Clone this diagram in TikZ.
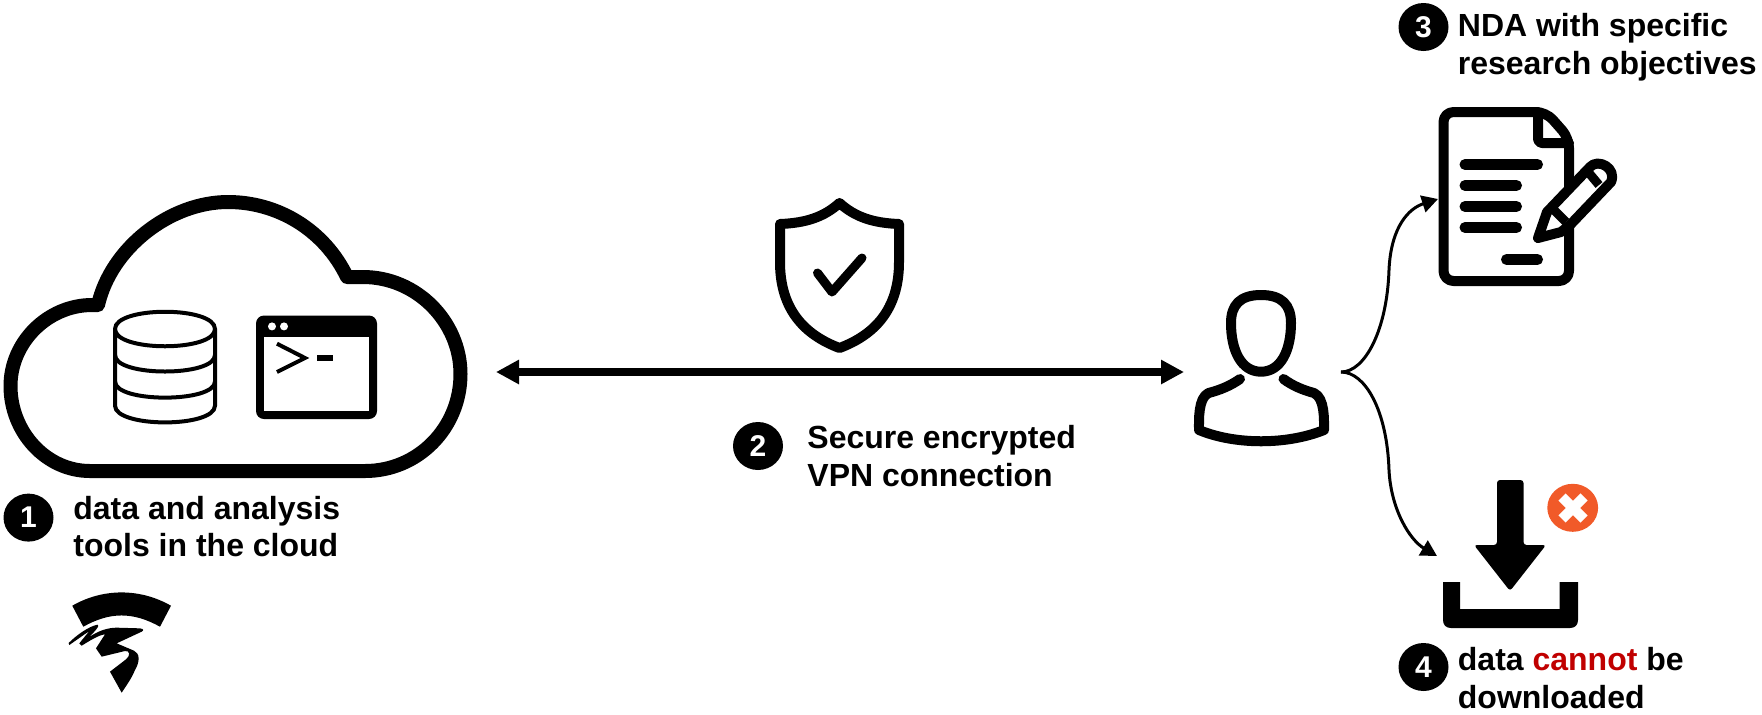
\documentclass[tikz,border=0pt]{standalone}
\usepackage{fontspec}
\setmainfont{Liberation Sans}
\usetikzlibrary{arrows.meta, shapes.geometric}
\definecolor{stopred}{HTML}{F15A29}
\definecolor{textred}{HTML}{C00000}
\tikzset{
  iconline/.style={line width=5pt, line join=round, line cap=round},
  textbar/.style={line width=5.5pt, line cap=round},
  badge/.style={ellipse, fill=black, text=white, inner sep=0pt, minimum width=25pt, minimum height=24pt, font=\fontsize{15}{15}\selectfont\bfseries},
  caption/.style={anchor=base west, inner sep=0pt, align=left, font=\fontsize{16}{18.75}\selectfont\bfseries},
  curvearrow/.style={line width=1.5pt, -{Triangle[length=8pt, width=8.5pt]}}
}
\begin{document}
\begin{tikzpicture}[x=0.5pt, y=-0.5pt]
\useasboundingbox (0,0) rectangle (1762,714);
\draw[line width=7pt, line join=round] (347,277) .. controls (325,231) and (279,202) .. (228,202)
  .. controls (170,202) and (111,248) .. (98,305) -- (92,305)
  .. controls (48,305) and (10.5,342) .. (10.5,386) .. controls (10.5,432) and (46,471) .. (90,471)
  -- (365,471) .. controls (418,471) and (460.5,428) .. (460.5,374)
  .. controls (460.5,322) and (417,277) .. (363,277) -- cycle;
\draw[line width=2pt] (115,329) .. controls (115,352) and (215,352) .. (215,329)
  .. controls (215,306) and (115,306) .. (115,329) -- (115,405.6)
  .. controls (115,428) and (215,428) .. (215,405.6) -- (215,329);
\draw[line width=2pt] (115,355) .. controls (115,377) and (215,377) .. (215,355);
\draw[line width=2pt] (115,381.5) .. controls (115,403) and (215,403) .. (215,381.5);
\fill[rounded corners=4pt] (256,315.5) rectangle (377,419);
\fill[white] (264,337.4) rectangle (369,411);
\fill[white] (272,326.4) circle[radius=4] (284,326.4) circle[radius=4];
\draw[line width=2pt] (277,343.7) -- (305,358) -- (277,372);
\fill (317,355) rectangle (333,361.4);
\node[badge] (badge1) at (28.5,517.6) {1};
\node[caption] (cloudtext) at (73,556.5) {data and analysis\\tools in the cloud};
\fill (72.3,605.7) .. controls (103,588) and (140,588) .. (171,605.7) -- (160,626.7)
  .. controls (133,611.7) and (110,611.7) .. (83.3,626.7) -- cycle;
\begin{scope}[shift={(60,615)}, scale=0.3333]
\fill (185,233) -- (150,170) -- (198,133) .. controls (212,122) and (210,106) .. (195,108)
  -- (125,125) -- (108,100) -- (135,58) .. controls (115,60) and (85,80) .. (65,92) -- (58,85)
  -- (88,48) -- (28,90) -- (26,84) .. controls (50,60) and (85,35) .. (112,29)
  .. controls (122,29) and (105,50) .. (85,68) .. controls (110,50) and (140,38) .. (170,38)
  -- (240,40) .. controls (252,42) and (252,46) .. (245,50) -- (170,85) -- (222,107)
  .. controls (240,115) and (240,140) .. (225,165) .. controls (215,190) and (200,210) .. (185,233) -- cycle;
\end{scope}
\draw[iconline] (839.5,203) .. controls (824,217) and (806,223) .. (780,224) -- (780,262)
  .. controls (780,310) and (805,335) .. (839.5,348)
  .. controls (874,335) and (899,310) .. (899,262) -- (899,224)
  .. controls (873,223) and (855,217) .. (839.5,203) -- cycle;
\draw[line width=4.5pt, line join=round, line cap=round] (817.5,273) -- (832,292) -- (862,258);
\coordinate (cloudport) at (496,372);
\coordinate (userport) at (1184,372);
\draw[line width=4pt, {Triangle[length=11.5pt, width=11.5pt]}-{Triangle[length=11.5pt, width=11.5pt]}] (cloudport) -- (userport);
\node[badge] (badge2) at (758,446) {2};
\node[caption] (vpntext) at (807,486) {Secure encrypted\\VPN connection};
\draw[iconline] (1261,295) .. controls (1240,295) and (1231,305) .. (1231,323)
  .. controls (1231,350) and (1241,371.7) .. (1261,371.7)
  .. controls (1281,371.7) and (1291,350) .. (1291,323)
  .. controls (1291,305) and (1282,295) .. (1261,295) -- cycle;
\draw[iconline] (1240,379) .. controls (1230,386) and (1220,390) .. (1208.5,393)
  .. controls (1198,398) and (1199,420) .. (1199,430)
  .. controls (1235,445) and (1287,445) .. (1324,430)
  .. controls (1324,420) and (1325,398) .. (1314,393)
  .. controls (1303,390) and (1293,386) .. (1283.5,379);
\coordinate (userout) at (1341,372);
\coordinate (ndain) at (1438,199);
\coordinate (downin) at (1437,556);
\draw[curvearrow] (userout) .. controls (1365,372) and (1387,330) .. (1389,270) .. controls (1391,225) and (1410,208) .. (ndain);
\draw[curvearrow] (userout) .. controls (1365,372) and (1387,410) .. (1389,470) .. controls (1391,510) and (1410,540) .. (downin);
\node[badge] (badge3) at (1423.5,27) {3};
\node[caption] (ndatext) at (1457.5,74) {NDA with specific\\research objectives};
\draw[iconline, rounded corners=5pt] (1443.5,112) -- (1546,112) -- (1569,138) -- (1569,281) -- (1443.5,281) -- cycle;
\draw[iconline, rounded corners=2pt] (1538,112) -- (1538,143) -- (1569,143);
\draw[textbar] (1465,164.5) -- (1537.5,164.5);
\draw[textbar] (1465,185.5) -- (1516.5,185.5);
\draw[textbar] (1465,206.5) -- (1516.5,206.5);
\draw[textbar] (1465,227.5) -- (1516.5,227.5);
\draw[textbar] (1506.5,259.5) -- (1537.5,259.5);
\draw[iconline, fill=white] (1538,238) -- (1547,212) -- (1590,167)
  .. controls (1598,158) and (1617,168) .. (1611,182) -- (1570,225) -- (1561,232) -- cycle;
\draw[line width=4.5pt] (1589,173) -- (1599,185);
\draw[line width=4.5pt] (1552,208) -- (1566,222);
\fill[rounded corners=1.5pt] (1497,480) -- (1523.5,480) -- (1523.5,545) -- (1546,545) -- (1510,591) -- (1474,545) -- (1497,545) -- cycle;
\fill (1443,582) -- (1443,620) .. controls (1443,625) and (1446,628) .. (1451,628) -- (1570,628)
  .. controls (1575,628) and (1578,625) .. (1578,620) -- (1578,582) -- (1559.5,582) -- (1559.5,609) -- (1460,609) -- (1460,582) -- cycle;
\fill[stopred] (1572.7,507.8) ellipse[x radius=25.4, y radius=24];
\draw[white, line width=5pt] (1562,497) -- (1584,519);
\draw[white, line width=5pt] (1584,497) -- (1562,519);
\node[badge] (badge4) at (1423.5,667) {4};
\node[caption] (downtext) at (1457.5,708) {data \textcolor{textred}{cannot} be\\downloaded};
\end{tikzpicture}
\end{document}
